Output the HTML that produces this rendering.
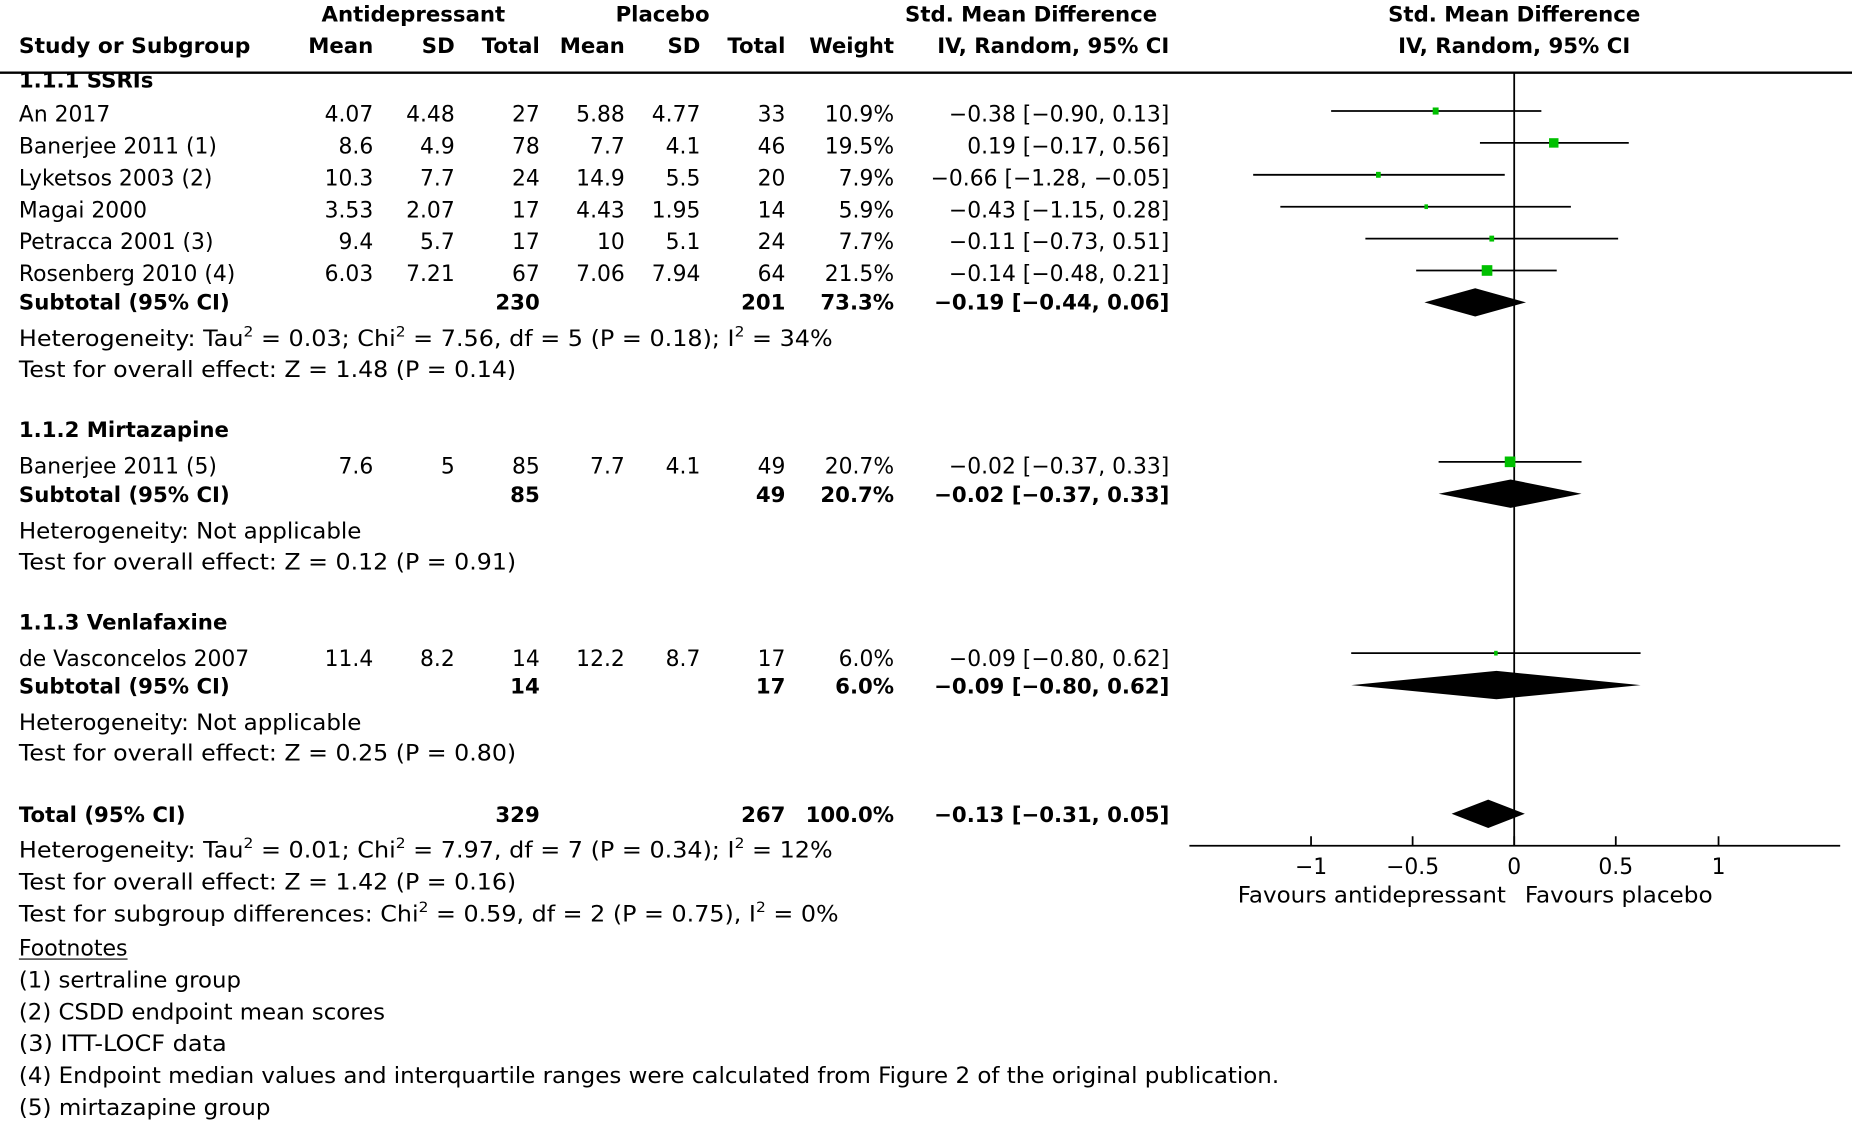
<!DOCTYPE html>
<html><head><meta charset="utf-8"><style>
html,body{margin:0;padding:0;background:#fff;}
svg{display:block;}
text{font-family:"DejaVu Sans","Liberation Sans",sans-serif;font-size:18.5px;fill:#000;}
.b{font-weight:bold;font-size:18px;}
.e{text-anchor:end;}
.m{text-anchor:middle;}
</style></head><body>
<svg width="1852" height="1130" viewBox="0 0 1568 956.7" preserveAspectRatio="none" xmlns="http://www.w3.org/2000/svg">
<!-- headers -->
<text class="b m" x="350" y="18">Antidepressant</text>
<text class="b m" x="561" y="18">Placebo</text>
<text class="b m" x="873" y="18">Std. Mean Difference</text>
<text class="b m" x="1282" y="18">Std. Mean Difference</text>
<text class="b" x="16" y="45" textLength="196" lengthAdjust="spacingAndGlyphs">Study or Subgroup</text>
<text class="b e" x="316" y="45">Mean</text>
<text class="b e" x="385" y="45">SD</text>
<text class="b e" x="457" y="45">Total</text>
<text class="b e" x="529" y="45">Mean</text>
<text class="b e" x="593" y="45">SD</text>
<text class="b e" x="665" y="45">Total</text>
<text class="b e" x="757" y="45">Weight</text>
<text class="b e" x="990" y="45">IV, Random, 95% CI</text>
<text class="b m" x="1282" y="45">IV, Random, 95% CI</text>
<line x1="0" y1="61.5" x2="1568" y2="61.5" stroke="#000" stroke-width="2"/>
<line x1="1282" y1="61" x2="1282" y2="716" stroke="#000" stroke-width="1.5"/>

<text class="b" x="16" y="74">1.1.1 SSRIs</text>
<g>
<text x="16" y="103">An 2017</text><text class="e" x="316" y="103">4.07</text><text class="e" x="385" y="103">4.48</text><text class="e" x="457" y="103">27</text><text class="e" x="529" y="103">5.88</text><text class="e" x="593" y="103">4.77</text><text class="e" x="665" y="103">33</text><text class="e" x="757" y="103">10.9%</text><text class="e" x="990" y="103">−0.38 [−0.90, 0.13]</text>
<text x="16" y="130">Banerjee 2011 (1)</text><text class="e" x="316" y="130">8.6</text><text class="e" x="385" y="130">4.9</text><text class="e" x="457" y="130">78</text><text class="e" x="529" y="130">7.7</text><text class="e" x="593" y="130">4.1</text><text class="e" x="665" y="130">46</text><text class="e" x="757" y="130">19.5%</text><text class="e" x="990" y="130">0.19 [−0.17, 0.56]</text>
<text x="16" y="157">Lyketsos 2003 (2)</text><text class="e" x="316" y="157">10.3</text><text class="e" x="385" y="157">7.7</text><text class="e" x="457" y="157">24</text><text class="e" x="529" y="157">14.9</text><text class="e" x="593" y="157">5.5</text><text class="e" x="665" y="157">20</text><text class="e" x="757" y="157">7.9%</text><text class="e" x="990" y="157">−0.66 [−1.28, −0.05]</text>
<text x="16" y="184">Magai 2000</text><text class="e" x="316" y="184">3.53</text><text class="e" x="385" y="184">2.07</text><text class="e" x="457" y="184">17</text><text class="e" x="529" y="184">4.43</text><text class="e" x="593" y="184">1.95</text><text class="e" x="665" y="184">14</text><text class="e" x="757" y="184">5.9%</text><text class="e" x="990" y="184">−0.43 [−1.15, 0.28]</text>
<text x="16" y="211">Petracca 2001 (3)</text><text class="e" x="316" y="211">9.4</text><text class="e" x="385" y="211">5.7</text><text class="e" x="457" y="211">17</text><text class="e" x="529" y="211">10</text><text class="e" x="593" y="211">5.1</text><text class="e" x="665" y="211">24</text><text class="e" x="757" y="211">7.7%</text><text class="e" x="990" y="211">−0.11 [−0.73, 0.51]</text>
<text x="16" y="238">Rosenberg 2010 (4)</text><text class="e" x="316" y="238">6.03</text><text class="e" x="385" y="238">7.21</text><text class="e" x="457" y="238">67</text><text class="e" x="529" y="238">7.06</text><text class="e" x="593" y="238">7.94</text><text class="e" x="665" y="238">64</text><text class="e" x="757" y="238">21.5%</text><text class="e" x="990" y="238">−0.14 [−0.48, 0.21]</text>
<text class="b" x="16" y="262">Subtotal (95% CI)</text><text class="b e" x="457" y="262">230</text><text class="b e" x="665" y="262">201</text><text class="b e" x="757" y="262">73.3%</text><text class="b e" x="990" y="262">−0.19 [−0.44, 0.06]</text>
<text x="16" y="293" textLength="689" lengthAdjust="spacingAndGlyphs">Heterogeneity: Tau<tspan font-size="12" dy="-8">2</tspan><tspan dy="8"> = 0.03; Chi</tspan><tspan font-size="12" dy="-8">2</tspan><tspan dy="8"> = 7.56, df = 5 (P = 0.18); I</tspan><tspan font-size="12" dy="-8">2</tspan><tspan dy="8"> = 34%</tspan></text>
<text x="16" y="319" textLength="421" lengthAdjust="spacingAndGlyphs">Test for overall effect: Z = 1.48 (P = 0.14)</text>
</g>

<text class="b" x="16" y="370">1.1.2 Mirtazapine</text>
<text x="16" y="401">Banerjee 2011 (5)</text><text class="e" x="316" y="401">7.6</text><text class="e" x="385" y="401">5</text><text class="e" x="457" y="401">85</text><text class="e" x="529" y="401">7.7</text><text class="e" x="593" y="401">4.1</text><text class="e" x="665" y="401">49</text><text class="e" x="757" y="401">20.7%</text><text class="e" x="990" y="401">−0.02 [−0.37, 0.33]</text>
<text class="b" x="16" y="425">Subtotal (95% CI)</text><text class="b e" x="457" y="425">85</text><text class="b e" x="665" y="425">49</text><text class="b e" x="757" y="425">20.7%</text><text class="b e" x="990" y="425">−0.02 [−0.37, 0.33]</text>
<text x="16" y="456" textLength="290" lengthAdjust="spacingAndGlyphs">Heterogeneity: Not applicable</text>
<text x="16" y="482" textLength="421" lengthAdjust="spacingAndGlyphs">Test for overall effect: Z = 0.12 (P = 0.91)</text>

<text class="b" x="16" y="533">1.1.3 Venlafaxine</text>
<text x="16" y="564">de Vasconcelos 2007</text><text class="e" x="316" y="564">11.4</text><text class="e" x="385" y="564">8.2</text><text class="e" x="457" y="564">14</text><text class="e" x="529" y="564">12.2</text><text class="e" x="593" y="564">8.7</text><text class="e" x="665" y="564">17</text><text class="e" x="757" y="564">6.0%</text><text class="e" x="990" y="564">−0.09 [−0.80, 0.62]</text>
<text class="b" x="16" y="587">Subtotal (95% CI)</text><text class="b e" x="457" y="587">14</text><text class="b e" x="665" y="587">17</text><text class="b e" x="757" y="587">6.0%</text><text class="b e" x="990" y="587">−0.09 [−0.80, 0.62]</text>
<text x="16" y="618" textLength="290" lengthAdjust="spacingAndGlyphs">Heterogeneity: Not applicable</text>
<text x="16" y="644" textLength="421" lengthAdjust="spacingAndGlyphs">Test for overall effect: Z = 0.25 (P = 0.80)</text>

<text class="b" x="16" y="696">Total (95% CI)</text><text class="b e" x="457" y="696">329</text><text class="b e" x="665" y="696">267</text><text class="b e" x="757" y="696">100.0%</text><text class="b e" x="990" y="696">−0.13 [−0.31, 0.05]</text>
<text x="16" y="726" textLength="689" lengthAdjust="spacingAndGlyphs">Heterogeneity: Tau<tspan font-size="12" dy="-8">2</tspan><tspan dy="8"> = 0.01; Chi</tspan><tspan font-size="12" dy="-8">2</tspan><tspan dy="8"> = 7.97, df = 7 (P = 0.34); I</tspan><tspan font-size="12" dy="-8">2</tspan><tspan dy="8"> = 12%</tspan></text>
<text x="16" y="753" textLength="421" lengthAdjust="spacingAndGlyphs">Test for overall effect: Z = 1.42 (P = 0.16)</text>
<text x="16" y="780" textLength="694" lengthAdjust="spacingAndGlyphs">Test for subgroup differences: Chi<tspan font-size="12" dy="-8">2</tspan><tspan dy="8"> = 0.59, df = 2 (P = 0.75), I</tspan><tspan font-size="12" dy="-8">2</tspan><tspan dy="8"> = 0%</tspan></text>
<text x="16" y="809" textLength="92" lengthAdjust="spacingAndGlyphs">Footnotes</text>
<line x1="16" y1="812" x2="108" y2="812" stroke="#000" stroke-width="1"/>
<text x="16" y="836" textLength="188" lengthAdjust="spacingAndGlyphs">(1) sertraline group</text>
<text x="16" y="863" textLength="310" lengthAdjust="spacingAndGlyphs">(2) CSDD endpoint mean scores</text>
<text x="16" y="890" textLength="176" lengthAdjust="spacingAndGlyphs">(3) ITT-LOCF data</text>
<text x="16" y="917" textLength="1067" lengthAdjust="spacingAndGlyphs">(4) Endpoint median values and interquartile ranges were calculated from Figure 2 of the original publication.</text>
<text x="16" y="944" textLength="213" lengthAdjust="spacingAndGlyphs">(5) mirtazapine group</text>

<!-- forest -->
<g stroke="#000" stroke-width="1.5">
<line x1="1127" y1="94" x2="1305" y2="94"/>
<line x1="1253" y1="121" x2="1379" y2="121"/>
<line x1="1061" y1="148" x2="1274" y2="148"/>
<line x1="1084" y1="175" x2="1330" y2="175"/>
<line x1="1156" y1="202" x2="1370" y2="202"/>
<line x1="1199" y1="229" x2="1318" y2="229"/>
<line x1="1218" y1="391" x2="1339" y2="391"/>
<line x1="1144" y1="553" x2="1389" y2="553"/>
</g>
<g fill="#00c000">
<rect x="1213" y="91" width="5" height="6"/>
<rect x="1311.5" y="117" width="8" height="8"/>
<rect x="1165" y="145.5" width="4" height="5"/>
<rect x="1206" y="173" width="3" height="4"/>
<rect x="1261" y="199.5" width="4" height="5"/>
<rect x="1254.5" y="224.5" width="9" height="9"/>
<rect x="1274" y="386.5" width="9" height="9"/>
<rect x="1265" y="551" width="3" height="4"/>
</g>
<g fill="#000">
<polygon points="1206,256 1249,244 1292,256 1249,268"/>
<polygon points="1218,418 1279,406 1339,418 1279,430"/>
<polygon points="1144,580 1267,568 1389,580 1267,592"/>
<polygon points="1229,689 1260,677 1291,689 1260,701"/>
</g>
<line x1="1007" y1="716" x2="1558" y2="716" stroke="#000" stroke-width="1.5"/>
<g stroke="#000" stroke-width="1.5">
<line x1="1110" y1="708" x2="1110" y2="716"/>
<line x1="1196" y1="708" x2="1196" y2="716"/>
<line x1="1282" y1="708" x2="1282" y2="716"/>
<line x1="1368" y1="708" x2="1368" y2="716"/>
<line x1="1455" y1="708" x2="1455" y2="716"/>
</g>
<text class="m" x="1110" y="740">−1</text>
<text class="m" x="1196" y="740">−0.5</text>
<text class="m" x="1282" y="740">0</text>
<text class="m" x="1368" y="740">0.5</text>
<text class="m" x="1455" y="740">1</text>
<text x="1048" y="764" textLength="227" lengthAdjust="spacingAndGlyphs">Favours antidepressant</text>
<text x="1291" y="764" textLength="159" lengthAdjust="spacingAndGlyphs">Favours placebo</text>
</svg>
</body></html>
